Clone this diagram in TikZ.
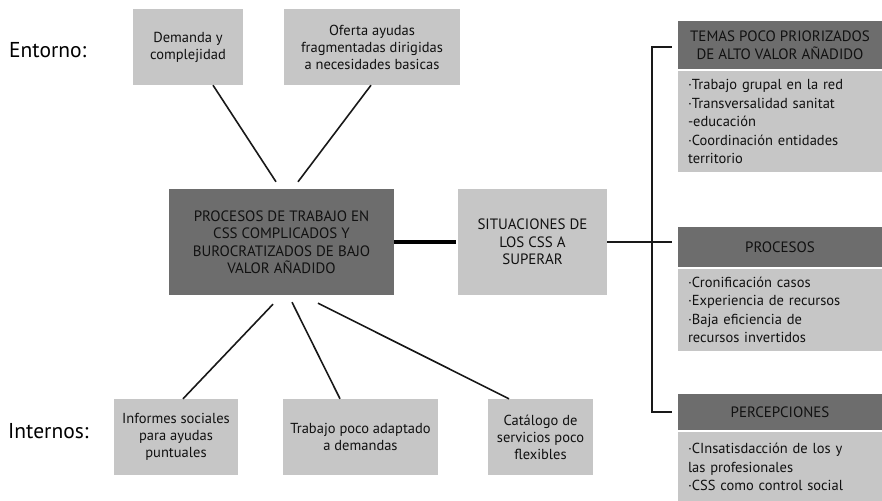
\documentclass[tikz,border=0pt]{standalone}
\usepackage{fontspec}
\setmainfont{PT Sans}
\usetikzlibrary{calc}
\definecolor{lightbox}{HTML}{C6C6C6}
\definecolor{darkbox}{HTML}{6D6D6D}
\definecolor{txt}{HTML}{111111}
\tikzset{
  box/.style={rectangle, fill=lightbox, inner sep=0pt, align=center, text=txt,
    font=\fontsize{14.5}{17}\selectfont},
  darkb/.style={box, fill=darkbox},
  body/.style={rectangle, fill=lightbox, inner xsep=10pt, inner ysep=0pt,
    text width=184pt, align=left, text=txt, font=\fontsize{14.5}{18.5}\selectfont},
  link/.style={draw=black!90, line width=1.6pt},
  lab/.style={font=\fontsize{21.5}{24}\selectfont, text=black, inner sep=0pt, anchor=base west}
}
\begin{document}
\begin{tikzpicture}[x=1pt,y=-1pt]
\useasboundingbox (0,0) rectangle (882,500);
% side labels
\node[lab] (ent) at (9,58) {Entorno:};
\node[lab] (int) at (8,438) {Internos:};
% top boxes
\node[box, minimum width=110pt, minimum height=76pt] (dem) at (188,47) {Demanda y\\complejidad};
\node[box, minimum width=176pt, minimum height=76pt] (ofe) at (372,47) {Oferta ayudas\\fragmentadas dirigidas\\a necesidades basicas};
% centre
\node[darkb, minimum width=225pt, minimum height=106pt, font=\fontsize{15}{17.5}\selectfont] (cen) at (281.5,242)
  {PROCESOS DE TRABAJO EN\\CSS COMPLICADOS Y\\BUROCRATIZADOS DE BAJO\\VALOR AÑADIDO};
\node[box, minimum width=149pt, minimum height=106pt, font=\fontsize{15}{17.5}\selectfont] (sit) at (532.5,242)
  {SITUACIONES DE\\LOS CSS A\\SUPERAR};
% bottom boxes
\node[box, minimum width=124pt, minimum height=76pt] (inf) at (176,437) {Informes sociales\\para ayudas\\puntuales};
\node[box, minimum width=155pt, minimum height=76pt] (tra) at (360.5,437) {Trabajo poco adaptado\\a demandas};
\node[box, minimum width=105pt, minimum height=76pt] (cat) at (540.5,437) {Catálogo de\\servicios poco\\flexibles};
% right panels
\node[darkb, minimum width=204pt, minimum height=48pt, font=\fontsize{15}{18}\selectfont] (temh) at (780,45)
  {TEMAS POCO PRIORIZADOS\\DE ALTO VALOR AÑADIDO};
\node[body, minimum height=101pt] (temb) at (780,121.5)
  {·Trabajo grupal en la red\\·Transversalidad sanitat\\-educación\\·Coordinación entidades\\territorio};
\node[darkb, minimum width=204pt, minimum height=40pt, font=\fontsize{15}{18}\selectfont] (proh) at (780,247) {PROCESOS};
\node[body, minimum height=82pt] (prob) at (780,310)
  {·Cronificación casos\\·Experiencia de recursos\\·Baja eficiencia de\\recursos invertidos};
\node[darkb, minimum width=204pt, minimum height=36pt, font=\fontsize{15}{18}\selectfont] (perh) at (780,412) {PERCEPCIONES};
\node[body, minimum height=70pt] (perb) at (780,467)
  {·CInsatisdacción de los y\\las profesionales\\·CSS como control social};
% connectors
\draw[link] ([xshift=25pt]dem.south) -- ([xshift=-5.5pt,yshift=7pt]cen.north);
\draw[link] ([xshift=-1pt]ofe.south) -- ([xshift=16.5pt,yshift=7pt]cen.north);
\draw[link] ([xshift=-8.5pt,yshift=-9pt]cen.south) -- ([xshift=7pt]inf.north);
\draw[link] ([xshift=10.5pt,yshift=-7pt]cen.south) -- ([xshift=-20.5pt]tra.north);
\draw[link] ([xshift=36.5pt,yshift=-8pt]cen.south) -- ([xshift=-31.5pt]cat.north);
\draw[line width=4.7pt] (cen.east) -- ([xshift=-2pt]cen.east -| sit.west);
\draw[link] (cen.east -| sit.east) -- ($(cen.east -| proh.west)+(-6,0)$);
\coordinate (bx) at (652,0);
\draw[link, line width=2pt] ($(temh.west)+(-6,2)$) -| (bx |- perh.west) -- ($(perh.west)+(-6,0)$);
\end{tikzpicture}
\end{document}
